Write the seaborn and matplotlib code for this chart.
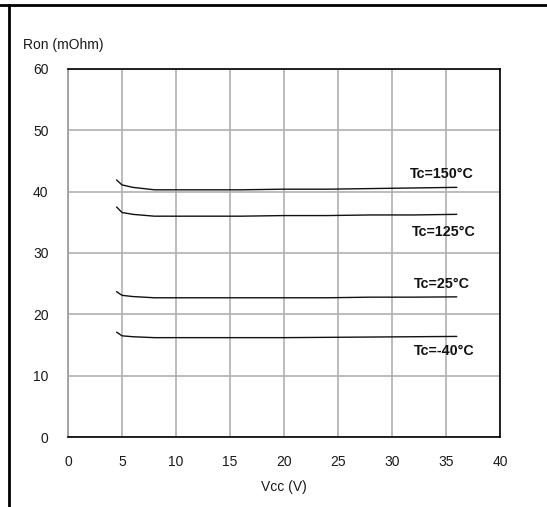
import matplotlib
matplotlib.use("Agg")
import matplotlib.pyplot as plt
from matplotlib.lines import Line2D
import seaborn as sns
import pandas as pd

vcc = [4.5, 5, 6, 8, 12, 16, 20, 24, 28, 32, 36]
ron_150 = [41.9, 41.1, 40.7, 40.3, 40.3, 40.3, 40.4, 40.4, 40.5, 40.6, 40.7]
ron_125 = [37.5, 36.6, 36.3, 36.0, 36.0, 36.0, 36.1, 36.1, 36.2, 36.2, 36.3]
ron_25 = [23.7, 23.1, 22.9, 22.7, 22.7, 22.7, 22.7, 22.7, 22.8, 22.8, 22.85]
ron_m40 = [17.1, 16.5, 16.35, 16.2, 16.2, 16.2, 16.2, 16.25, 16.3, 16.35, 16.4]

series_names = ["Tc=150°C", "Tc=125°C", "Tc=25°C", "Tc=-40°C"]
label_y = [42.9, 33.5, 24.9, 14.0]
label_pos_x = [34.6, 34.8, 34.6, 34.8]

x_ticks = [0, 5, 10, 15, 20, 25, 30, 35, 40]
y_ticks = [0, 10, 20, 30, 40, 50, 60]

rows = []
for name, vals in zip(series_names, [ron_150, ron_125, ron_25, ron_m40]):
    for v, r in zip(vcc, vals):
        rows.append({"Vcc": v, "Ron": r, "Tc": name})
df = pd.DataFrame(rows)

sns.set_theme(style="white")
plt.rcParams["font.family"] = ["Liberation Sans", "DejaVu Sans"]

fig = plt.figure(figsize=(5.47, 5.07), dpi=100)
ax = fig.add_axes([0.1243, 0.138, 0.914 - 0.1243, 0.864 - 0.138])

sns.lineplot(data=df, x="Vcc", y="Ron", hue="Tc", palette=["#111111"] * 4,
             linewidth=1.0, legend=False, ax=ax)

ax.set_xlim(0, 40)
ax.set_ylim(0, 60)
ax.set_xticks(x_ticks)
ax.set_yticks(y_ticks)
ax.set_xticklabels([str(t) for t in x_ticks], fontsize=10, color="#1a1a1a")
ax.set_yticklabels([str(t) for t in y_ticks], fontsize=10, color="#1a1a1a")
ax.tick_params(axis="both", length=0)
ax.tick_params(axis="x", pad=13)
ax.tick_params(axis="y", pad=14)
ax.grid(True, color="#b0b0b0", linewidth=1.2)
ax.set_axisbelow(True)
for side in ["top", "right", "bottom"]:
    ax.spines[side].set_color("black")
    ax.spines[side].set_linewidth(1.2)
ax.spines["left"].set_color("#999999")
ax.spines["left"].set_linewidth(1.2)

ax.set_xlabel("Vcc (V)", fontsize=10, color="#1a1a1a", labelpad=8)
ax.set_ylabel("")
fig.text(23 / 547, 1 - 45 / 507, "Ron (mOhm)", fontsize=10, color="#1a1a1a",
         ha="left", va="center")

for name, lx, ly in zip(series_names, label_pos_x, label_y):
    ax.text(lx, ly, name, fontsize=10.3, fontweight="bold", ha="center",
            va="center", color="#111111")

fig.add_artist(Line2D([0, 1], [1 - 5 / 507, 1 - 5 / 507], transform=fig.transFigure,
                      color="black", linewidth=2))
fig.add_artist(Line2D([9 / 547, 9 / 547], [0, 1 - 5 / 507], transform=fig.transFigure,
                      color="black", linewidth=2))

fig.savefig("out.png", dpi=100)
